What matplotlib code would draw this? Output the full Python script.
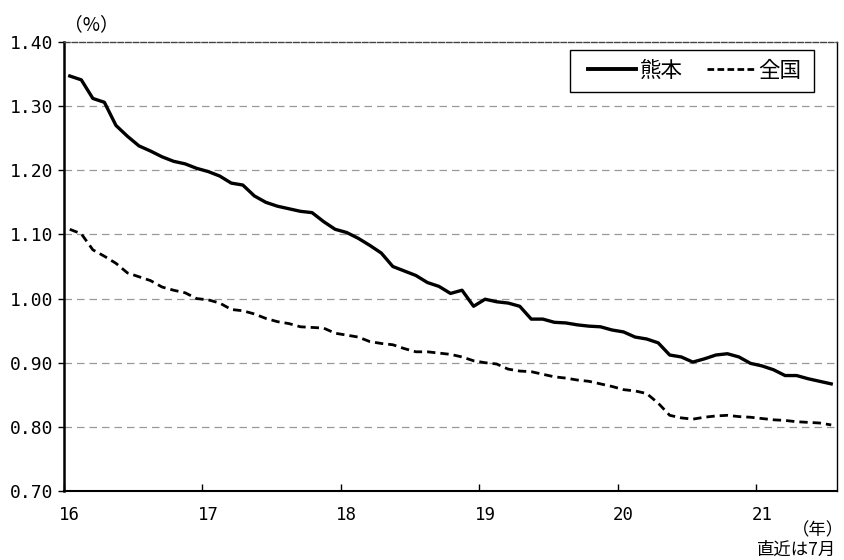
import matplotlib
matplotlib.use("Agg")
import matplotlib.pyplot as plt
from matplotlib.lines import Line2D
from matplotlib.patches import Rectangle

# Monthly data, Jan 2016 - Jul 2021
kumamoto = [1.347, 1.341, 1.312, 1.306, 1.270, 1.253, 1.238, 1.230, 1.221, 1.214, 1.210, 1.203,
            1.198, 1.191, 1.180, 1.177, 1.160, 1.150, 1.144, 1.140, 1.136, 1.134, 1.120, 1.108,
            1.103, 1.094, 1.083, 1.071, 1.050, 1.043, 1.036, 1.025, 1.019, 1.008, 1.013, 0.988,
            0.999, 0.995, 0.993, 0.988, 0.968, 0.968, 0.963, 0.962, 0.959, 0.957, 0.956, 0.951,
            0.948, 0.940, 0.937, 0.931, 0.912, 0.909, 0.901, 0.906, 0.912, 0.914, 0.909, 0.899,
            0.895, 0.889, 0.880, 0.880, 0.875, 0.871, 0.867]
national = [1.108, 1.101, 1.076, 1.066, 1.055, 1.040, 1.034, 1.028, 1.018, 1.013, 1.009, 1.000,
            0.998, 0.993, 0.983, 0.981, 0.976, 0.969, 0.964, 0.961, 0.956, 0.955, 0.954, 0.946,
            0.943, 0.940, 0.933, 0.930, 0.928, 0.922, 0.917, 0.917, 0.915, 0.913, 0.909, 0.903,
            0.900, 0.898, 0.890, 0.887, 0.886, 0.882, 0.878, 0.876, 0.873, 0.871, 0.867, 0.863,
            0.858, 0.856, 0.852, 0.837, 0.818, 0.814, 0.812, 0.815, 0.817, 0.818, 0.816, 0.815,
            0.813, 0.811, 0.810, 0.808, 0.807, 0.806, 0.803]
year_labels = ["16", "17", "18", "19", "20", "21"]
y_ticks = [0.70, 0.80, 0.90, 1.00, 1.10, 1.20, 1.30, 1.40]
series_names = ["熊本", "全国"]

JP = ["Noto Sans CJK JP", "DejaVu Sans"]
NUM = ["DejaVu Sans Mono", "DejaVu Sans"]

W, H = 844, 560
fig = plt.figure(figsize=(W / 100, H / 100), dpi=100)
ax = fig.add_axes([64/W, 1-491/H, (837-64)/W, (491-42)/H])

x = list(range(len(kumamoto)))
ax.plot(x, kumamoto, color="black", lw=2.4, solid_joinstyle="round", zorder=3)
ax.plot(x, national, color="black", lw=2.0, linestyle=(0, (3.0, 1.8)), zorder=3)

ax.set_xlim(-0.5, len(kumamoto) - 0.5)
ax.set_ylim(0.70, 1.40)

# gridlines
for v in y_ticks[1:-1]:
    ax.axhline(v, color="#999999", lw=0.9, linestyle=(0, (6, 4)), zorder=1)

# y axis
ax.set_yticks(y_ticks)
ax.set_yticklabels([f"{v:.2f}" for v in y_ticks], fontfamily=NUM, fontsize=13)
ax.tick_params(axis="y", direction="out", length=4, width=1, pad=4, colors="black")

# x axis: tick marks between categories, labels on January
major = [12 * k - 0.5 for k in range(len(year_labels))]
ax.set_xticks(major)
ax.set_xticklabels([""] * len(major))
ax.tick_params(axis="x", which="major", direction="in", length=5, width=1)
ax.set_xticks([12 * k for k in range(len(year_labels))], minor=True)
ax.set_xticklabels(year_labels, minor=True, fontfamily=NUM, fontsize=12.5)
ax.tick_params(axis="x", which="minor", length=0, pad=11)

ax.spines["left"].set_linewidth(1.8)
ax.spines["bottom"].set_linewidth(1.5)
ax.spines["right"].set_linewidth(1.0)
ax.spines["top"].set_linewidth(1.0)
ax.spines["top"].set_color("#444444")
ax.spines["top"].set_linestyle((0, (4, 1.5)))

# legend box drawn at fixed pixel location
bx0, by0, bx1, by1 = 570, 50, 814, 92
fig.patches.append(Rectangle((bx0/W, 1-by1/H), (bx1-bx0)/W, (by1-by0)/H,
                             transform=fig.transFigure, fill=True, facecolor="white",
                             edgecolor="black", lw=1.0, zorder=4))
handles = [Line2D([], [], color="black", lw=2.8),
           Line2D([], [], color="black", lw=2.0, linestyle=(0, (2.4, 1.2)))]
leg = fig.legend(handles, series_names, loc="center", bbox_to_anchor=(((bx0+bx1)/2 + 3)/W, 1-(by0+by1)/2/H),
                 ncol=2, frameon=False, prop={"family": JP, "size": 15.5}, handlelength=2.2,
                 handletextpad=0.2, columnspacing=1.1, borderpad=0.3)
leg.set_zorder(5)

fig.text(64/W, 1-25/H, "（%）", fontfamily=JP, fontsize=13.5, ha="left", va="center")
fig.text(844/W, 1-530/H, "（年）", fontfamily=JP, fontsize=12.5, ha="right", va="center")
fig.text(836/W, 1-550/H, "直近は7月", fontfamily=JP, fontsize=12.5, ha="right", va="center")

fig.savefig("out.png", dpi=100)
